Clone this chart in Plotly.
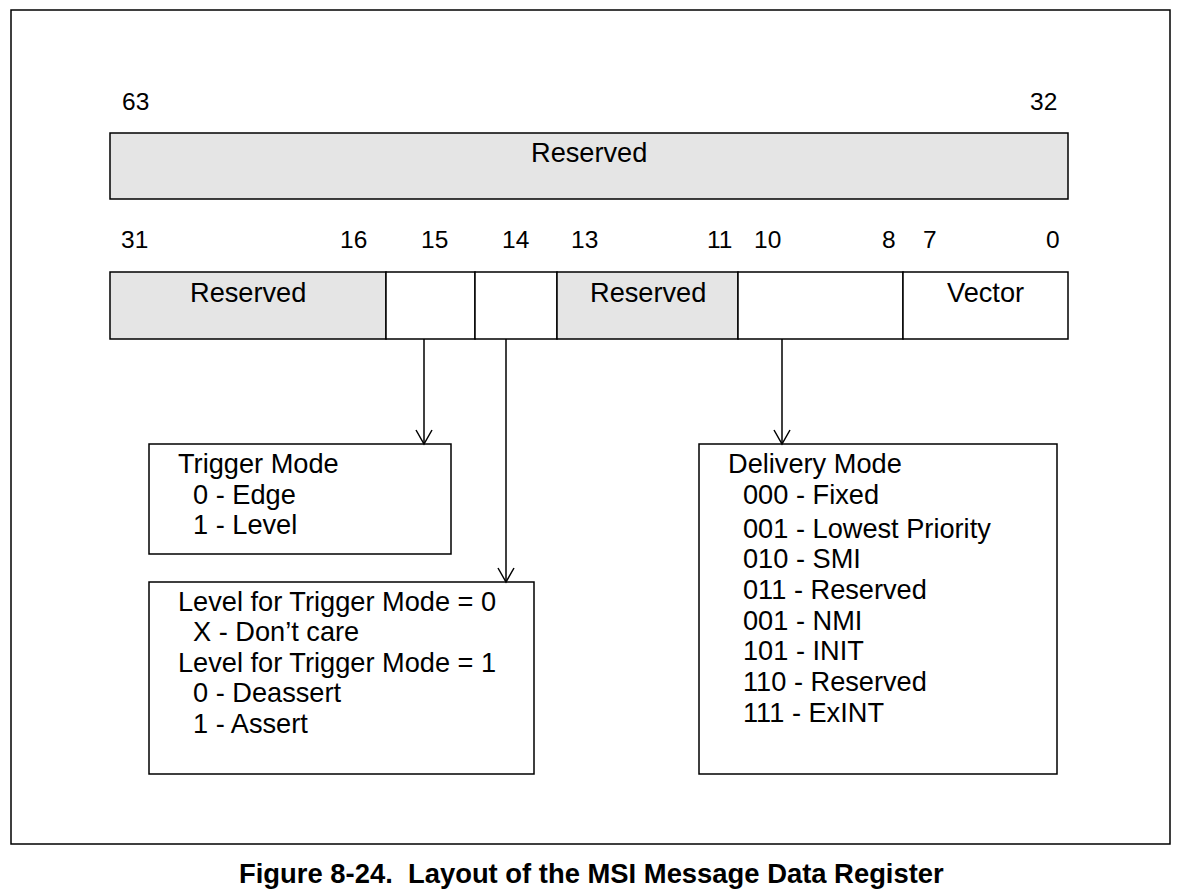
import plotly.graph_objects as go

# ---------------- data ----------------
top_bits = ["63", "32"]
top_field = ["Reserved"]
low_bits = ["31", "16", "15", "14", "13", "11", "10", "8", "7", "0"]
low_fields = ["Reserved", "", "", "Reserved", "", "Vector"]
low_reserved = [True, False, False, True, False, False]
trigger_lines = ["Trigger Mode", "0 - Edge", "1 - Level"]
level_lines = ["Level for Trigger Mode = 0", "X - Don\u2019t care",
               "Level for Trigger Mode = 1", "0 - Deassert", "1 - Assert"]
delivery_lines = ["Delivery Mode", "000 - Fixed", "001 - Lowest Priority", "010 - SMI",
                  "011 - Reserved", "001 - NMI", "101 - INIT", "110 - Reserved", "111 - ExINT"]
caption = "Figure 8-24.\u00a0\u00a0Layout of the MSI Message Data Register"

# ---------------- layout geometry ----------------
FONT = "Liberation Sans, Arial, Helvetica, sans-serif"
GRAY = "#e5e5e5"
LW = 1.5
BODY = 27.2
NUM = 24.5
top_bit_x = [135, 1043]
top_reg = dict(x0=110, x1=1068, y0=133, y1=199)
low_bit_x = [134, 353.5, 434, 515, 584, 719, 767, 889, 930, 1053]
low_edges = [110, 386, 475, 557, 738, 903, 1068]
low_y = (272, 339)
boxes = {
    "trigger": dict(x0=149, x1=451, y0=444, y1=554),
    "level": dict(x0=149, x1=534, y0=582, y1=774),
    "delivery": dict(x0=699, x1=1057, y0=444, y1=774),
}
arrows = [(424, 339, 444), (506, 339, 582), (782, 339, 444)]

fig = go.Figure()
shapes = []
ann = []

def rect(x0, x1, y0, y1, fill="rgba(0,0,0,0)"):
    shapes.append(dict(type="rect", xref="x", yref="y", x0=x0, x1=x1, y0=y0, y1=y1,
                       line=dict(color="black", width=LW), fillcolor=fill, layer="below"))

def text(x, y, s, size=BODY, anchor="left", bold=False):
    ann.append(dict(x=x, y=y, xref="x", yref="y", text=("<b>%s</b>" % s) if bold else s,
                    showarrow=False, xanchor=anchor, yanchor="middle",
                    font=dict(family=FONT, size=size, color="black")))

# outer frame
rect(11, 1170, 10, 844)

# top register
rect(top_reg["x0"], top_reg["x1"], top_reg["y0"], top_reg["y1"], GRAY)
text((top_reg["x0"] + top_reg["x1"]) / 2, 152, top_field[0], anchor="center")
for lbl, x in zip(top_bits, top_bit_x):
    text(x, 101, lbl, size=NUM, anchor="center")

# lower register
for i, name in enumerate(low_fields):
    x0, x1 = low_edges[i], low_edges[i + 1]
    rect(x0, x1, low_y[0], low_y[1], GRAY if low_reserved[i] else "white")
    if name:
        text((x0 + x1) / 2, 292, name, anchor="center")
for lbl, x in zip(low_bits, low_bit_x):
    text(x, 239, lbl, size=NUM, anchor="center")

# arrows
for x, y0, y1 in arrows:
    shapes.append(dict(type="line", xref="x", yref="y", x0=x, x1=x, y0=y0, y1=y1,
                       line=dict(color="black", width=LW)))
    shapes.append(dict(type="path", xref="x", yref="y",
                       path="M %g %g L %g %g L %g %g" % (x - 8, y1 - 14, x, y1, x + 8, y1 - 14),
                       line=dict(color="black", width=LW)))

# description boxes
for b in boxes.values():
    rect(b["x0"], b["x1"], b["y0"], b["y1"], "white")

HEAD_X, ITEM_X = 176, 191
DHEAD_X, DITEM_X = 726, 741

trig_y = [463, 494, 524]
for i, (s, y) in enumerate(zip(trigger_lines, trig_y)):
    text(HEAD_X if i == 0 else ITEM_X, y, s)

lev_y = [601, 631, 662, 692, 723]
lev_x = [HEAD_X, ITEM_X, HEAD_X, ITEM_X, ITEM_X]
for s, x, y in zip(level_lines, lev_x, lev_y):
    text(x, y, s)

del_y = [463, 494, 528, 558, 589, 620, 650, 681, 712]
for i, (s, y) in enumerate(zip(delivery_lines, del_y)):
    text(DHEAD_X if i == 0 else DITEM_X, y, s)

# caption
text(591, 873, caption, size=27.4, anchor="center", bold=True)

fig.update_layout(
    width=1180, height=892, autosize=False,
    margin=dict(l=0, r=0, t=0, b=0, pad=0),
    paper_bgcolor="white", plot_bgcolor="white",
    xaxis=dict(range=[0, 1180], visible=False, fixedrange=True),
    yaxis=dict(range=[892, 0], visible=False, fixedrange=True),
    shapes=shapes, annotations=ann, showlegend=False,
)
fig.write_html("out.html", config={"displayModeBar": False},
               post_script="document.body.style.margin='0';document.body.style.overflow='hidden';")
